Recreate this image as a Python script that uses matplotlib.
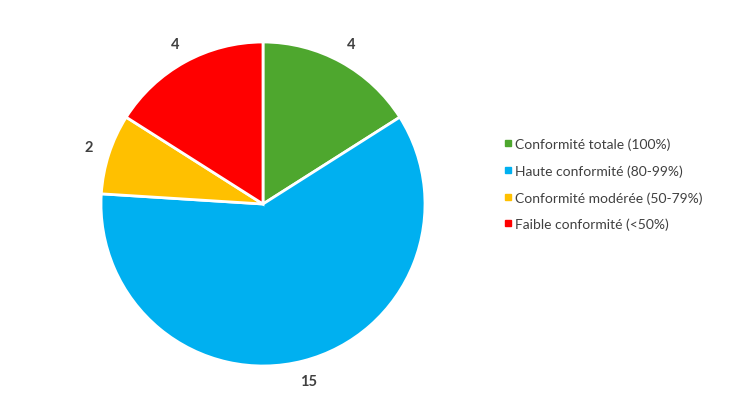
import matplotlib.pyplot as plt
from matplotlib.lines import Line2D

plt.rcParams['font.family'] = ['Lato', 'DejaVu Sans']

# data
categories = ["Conformité totale (100%)", "Haute conformité (80-99%)",
              "Conformité modérée (50-79%)", "Faible conformité (<50%)"]
values = [4, 15, 2, 4]
colors = ["#4EA72E", "#00B0F0", "#FFC000", "#FF0000"]

fig = plt.figure(figsize=(7.5, 4.1), dpi=100)
ax = fig.add_axes([101 / 750, 43 / 410, 324 / 750, 324 / 410])

wedges, texts = ax.pie(values, colors=colors, startangle=90, counterclock=False,
                       labels=[str(v) for v in values], labeldistance=1.13,
                       wedgeprops=dict(edgecolor="white", linewidth=2))
for t in texts:
    t.set_fontsize(10.5)
    t.set_fontweight("bold")
    t.set_color("#404040")
    t.set_ha("center")
    t.set_va("center")
ax.set_xlim(-1, 1)
ax.set_ylim(-1, 1)
ax.set_aspect("equal")

handles = [Line2D([0], [0], marker="s", linestyle="none", markersize=5,
                  markerfacecolor=c, markeredgecolor=c) for c in colors]
fig.legend(handles, categories, loc="center left", bbox_to_anchor=(491 / 750, 1 - 185 / 410),
           frameon=False, fontsize=10, handlelength=0.6, handletextpad=0.2,
           labelspacing=1.02, labelcolor="#404040")

fig.savefig("out.png", dpi=100)
